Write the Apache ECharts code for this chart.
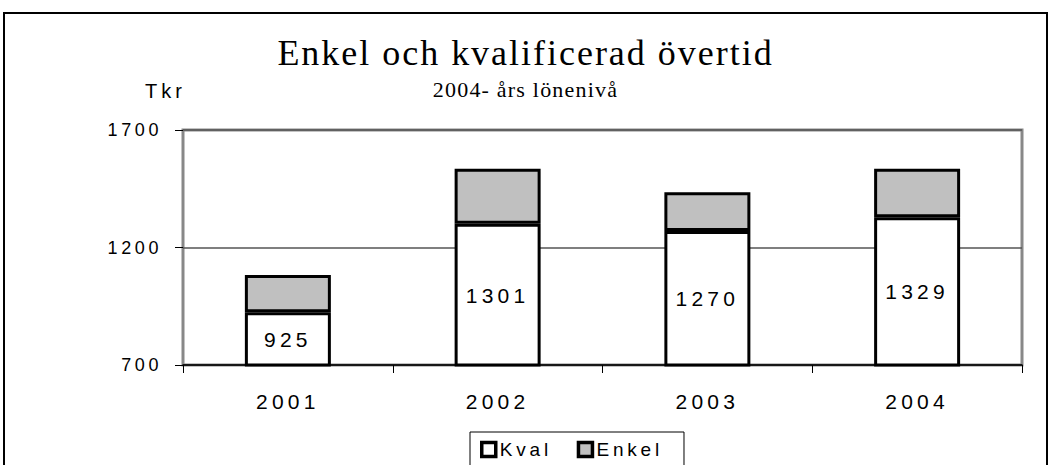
<!DOCTYPE html>
<html>
<head>
<meta charset="utf-8">
<title></title>
<script src="https://cdn.jsdelivr.net/npm/echarts@6/dist/echarts.min.js"></script>
<style type="text/css">
	body{margin:0;background:#fff;}
	div#main{width:1051px;height:465px;}
	/* Excel-style spaced lettering */
	#main text{letter-spacing:0.2em;}
	#main text[style*="Serif"]{letter-spacing:0.055em;}
</style>
</head>
<body>
<div id="main"></div>
<script type="text/javascript">
var years = ['2001', '2002', '2003', '2004'];
var kval = [925, 1301, 1270, 1329];
var enkel = [158, 234, 165, 206];
var yTicks = [700, 1200, 1700];

var myChart = echarts.init(document.getElementById('main'), null, {renderer: 'svg'});
var option = {
    animation: false,
    backgroundColor: '#fff',
    title: [{
        text: 'Enkel och kvalificerad övertid',
        left: 'center',
        top: 30,
        textStyle: {fontFamily: 'Liberation Serif', fontSize: 36, fontWeight: 'normal', color: '#000'}
    }, {
        text: '2004- års lönenivå',
        left: 'center',
        top: 73,
        padding: [5, 5, 5, 25],
        textStyle: {fontFamily: 'Liberation Serif', fontSize: 22, fontWeight: 'normal', color: '#000'}
    }, {
        text: 'Tkr',
        left: 140,
        top: 76,
        textStyle: {fontFamily: 'Liberation Sans', fontSize: 20, fontWeight: 'normal', color: '#000'}
    }],
    graphic: [{
        type: 'rect',
        shape: {x: 4, y: 13, width: 1043, height: 470},
        style: {fill: null, stroke: '#000', lineWidth: 2},
        silent: true
    }],
    legend: {
        data: ['Kval', 'Enkel'],
        left: 470,
        top: 432,
        itemWidth: 14,
        itemHeight: 14,
        itemGap: 40,
        padding: [8, 40, 20, 10],
        borderColor: '#000',
        borderWidth: 1,
        borderRadius: 0,
        icon: 'rect',
        itemStyle: {borderColor: '#000', borderWidth: 3.5},
        textStyle: {fontFamily: 'Liberation Sans', fontSize: 19, color: '#000', padding: [0, 0, 0, -1]}
    },
    grid: {
        left: 183,
        right: 29,
        top: 130,
        bottom: 100,
        show: true,
        borderColor: '#888',
        borderWidth: 3
    },
    xAxis: {
        type: 'category',
        data: years,
        axisLine: {lineStyle: {color: '#000', width: 1.5}},
        axisTick: {show: true, length: 8, lineStyle: {color: '#000'}},
        axisLabel: {fontFamily: 'Liberation Sans', fontSize: 21, color: '#000', margin: 26}
    },
    yAxis: {
        type: 'value',
        min: yTicks[0],
        max: yTicks[yTicks.length - 1],
        interval: yTicks[1] - yTicks[0],
        axisLine: {show: false},
        axisTick: {show: true, length: 8, lineStyle: {color: '#000'}},
        axisLabel: {
            fontFamily: 'Liberation Sans',
            fontSize: 18,
            color: '#000',
            margin: 21,
            formatter: function (v) { return String(v); }
        },
        splitLine: {show: true, lineStyle: {color: '#555', width: 1.5}}
    },
    series: [{
        name: 'Kval',
        type: 'bar',
        stack: 'tot',
        data: kval,
        barWidth: '41%',
        itemStyle: {color: '#fff', borderColor: '#000', borderWidth: 3},
        label: {
            show: true,
            position: 'inside',
            fontFamily: 'Liberation Sans',
            fontSize: 21,
            color: '#000'
        },
        z: 3
    }, {
        name: 'Enkel',
        type: 'bar',
        stack: 'tot',
        data: enkel,
        barWidth: '41%',
        itemStyle: {color: '#c0c0c0', borderColor: '#000', borderWidth: 3},
        z: 3
    }]
};
myChart.setOption(option);
</script>
</body>
</html>
